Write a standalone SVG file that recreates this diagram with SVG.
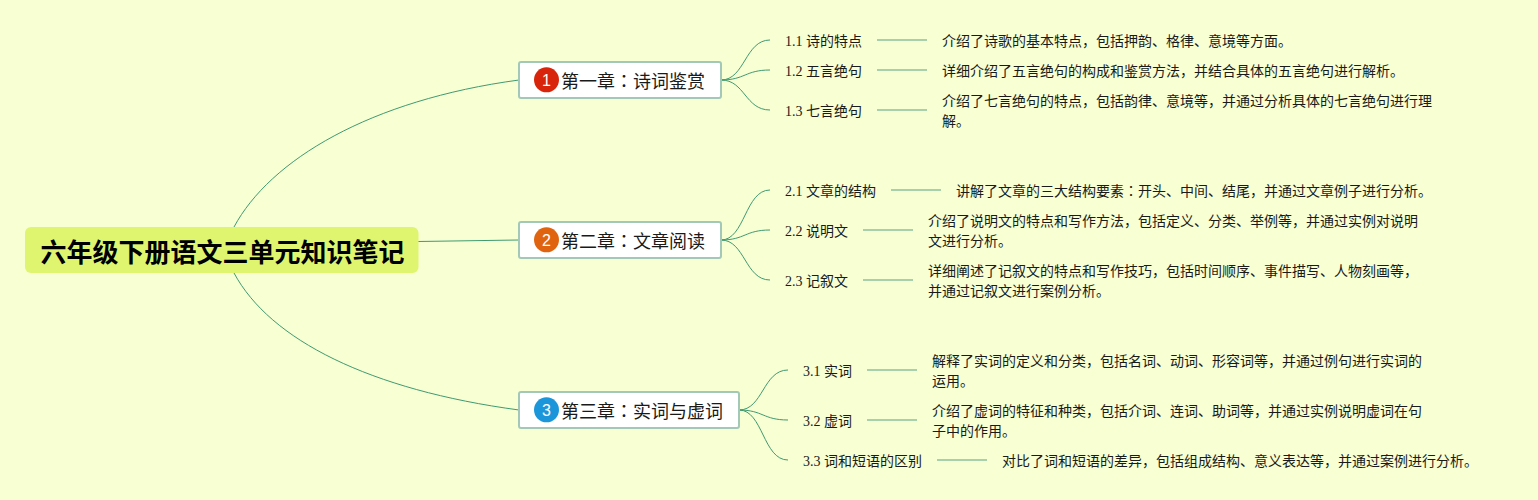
<svg xmlns="http://www.w3.org/2000/svg" width="1538" height="500" viewBox="0 0 1538 500">
<style>
text{font-family:"Liberation Serif","Noto Sans CJK SC",serif;fill:#1a1a1a;font-size:14px}
.root{fill:#dff56f}
.rt{font-family:"Noto Sans CJK SC",sans-serif;font-size:26px;font-weight:700;fill:#000}
.ch{fill:#fff;stroke:#a3c8b8;stroke-width:2}
.ct{font-family:"Noto Sans CJK SC",sans-serif;font-size:18px}
.num{font-family:"Liberation Sans",sans-serif;font-size:16px;fill:#fff;text-anchor:middle}
.col{font-family:"Noto Sans CJK TC",sans-serif}
.c path{fill:none;stroke:#3f9a70;stroke-width:1}
.c line{stroke:#8cc29c;stroke-width:1.6}
</style>
<rect width="1538" height="500" fill="#f7ffd3"/>
<g id="connectors" class="c">
<path d="M234 227C270 160 370 100 519 80"/>
<path d="M418 241.500L519 240"/>
<path d="M234 273C270 340 370 390 519 410"/>
<path d="M721 80C745 80 745 40 770 40"/>
<path d="M721 80C745 80 745 70 770 70"/>
<path d="M721 80C745 80 745 110 770 110"/>
<path d="M721 240C745 240 745 190 770 190"/>
<path d="M721 240C745 240 745 230 770 230"/>
<path d="M721 240C745 240 745 280 770 280"/>
<path d="M739 410C763 410 763 370 788 370"/>
<path d="M739 410C763 410 763 420 788 420"/>
<path d="M739 410C763 410 763 460 788 460"/>
<line x1="877" y1="40" x2="927" y2="40"/>
<line x1="877" y1="70" x2="927" y2="70"/>
<line x1="877" y1="110" x2="927" y2="110"/>
<line x1="891" y1="190" x2="941" y2="190"/>
<line x1="863" y1="230" x2="913" y2="230"/>
<line x1="863" y1="280" x2="913" y2="280"/>
<line x1="867" y1="370" x2="917" y2="370"/>
<line x1="867" y1="420" x2="917" y2="420"/>
<line x1="937" y1="460" x2="987" y2="460"/>
</g>
<g id="root"><rect class="root" x="25" y="227" width="393.500" height="46" rx="6"/><text class="rt" x="40.500" y="262">六年级下册语文三单元知识笔记</text></g>
<g id="ch1"><rect class="ch" x="519" y="62" width="202" height="36" rx="2"/><circle cx="546.500" cy="79.800" r="12.500" fill="#d8240a"/><text class="num" x="546.500" y="85.500">1</text><text class="ct" x="561" y="88">第一章<tspan class="col">：</tspan>诗词鉴赏</text></g>
<g id="ch2"><rect class="ch" x="519" y="222" width="202" height="36" rx="2"/><circle cx="546.500" cy="239.800" r="12.500" fill="#e0640f"/><text class="num" x="546.500" y="245.500">2</text><text class="ct" x="561" y="248">第二章<tspan class="col">：</tspan>文章阅读</text></g>
<g id="ch3"><rect class="ch" x="519" y="392" width="220" height="36" rx="2"/><circle cx="546.500" cy="409.800" r="12.500" fill="#1b96da"/><text class="num" x="546.500" y="415.500">3</text><text class="ct" x="561" y="418">第三章<tspan class="col">：</tspan>实词与虚词</text></g>
<g id="t11"><text x="785" y="46">1.1 诗的特点</text></g>
<g id="t12"><text x="785" y="76">1.2 五言绝句</text></g>
<g id="t13"><text x="785" y="116">1.3 七言绝句</text></g>
<g id="t21"><text x="785" y="196">2.1 文章的结构</text></g>
<g id="t22"><text x="785" y="236">2.2 说明文</text></g>
<g id="t23"><text x="785" y="286">2.3 记叙文</text></g>
<g id="t31"><text x="803" y="376">3.1 实词</text></g>
<g id="t32"><text x="803" y="426">3.2 虚词</text></g>
<g id="t33"><text x="803" y="466">3.3 词和短语的区别</text></g>
<g id="d11"><text x="942" y="46">介绍了诗歌的基本特点，包括押韵、格律、意境等方面。</text></g>
<g id="d12"><text x="942" y="76">详细介绍了五言绝句的构成和鉴赏方法，并结合具体的五言绝句进行解析。</text></g>
<g id="d13"><text x="942" y="106">介绍了七言绝句的特点，包括韵律、意境等，并通过分析具体的七言绝句进行理</text><text x="942" y="126">解。</text></g>
<g id="d21"><text x="956" y="196">讲解了文章的三大结构要素<tspan class="col">：</tspan>开头、中间、结尾，并通过文章例子进行分析。</text></g>
<g id="d22"><text x="928" y="226">介绍了说明文的特点和写作方法，包括定义、分类、举例等，并通过实例对说明</text><text x="928" y="246">文进行分析。</text></g>
<g id="d23"><text x="928" y="276">详细阐述了记叙文的特点和写作技巧，包括时间顺序、事件描写、人物刻画等，</text><text x="928" y="296">并通过记叙文进行案例分析。</text></g>
<g id="d31"><text x="932" y="366">解释了实词的定义和分类，包括名词、动词、形容词等，并通过例句进行实词的</text><text x="932" y="386">运用。</text></g>
<g id="d32"><text x="932" y="416">介绍了虚词的特征和种类，包括介词、连词、助词等，并通过实例说明虚词在句</text><text x="932" y="436">子中的作用。</text></g>
<g id="d33"><text x="1002" y="466">对比了词和短语的差异，包括组成结构、意义表达等，并通过案例进行分析。</text></g>
</svg>
